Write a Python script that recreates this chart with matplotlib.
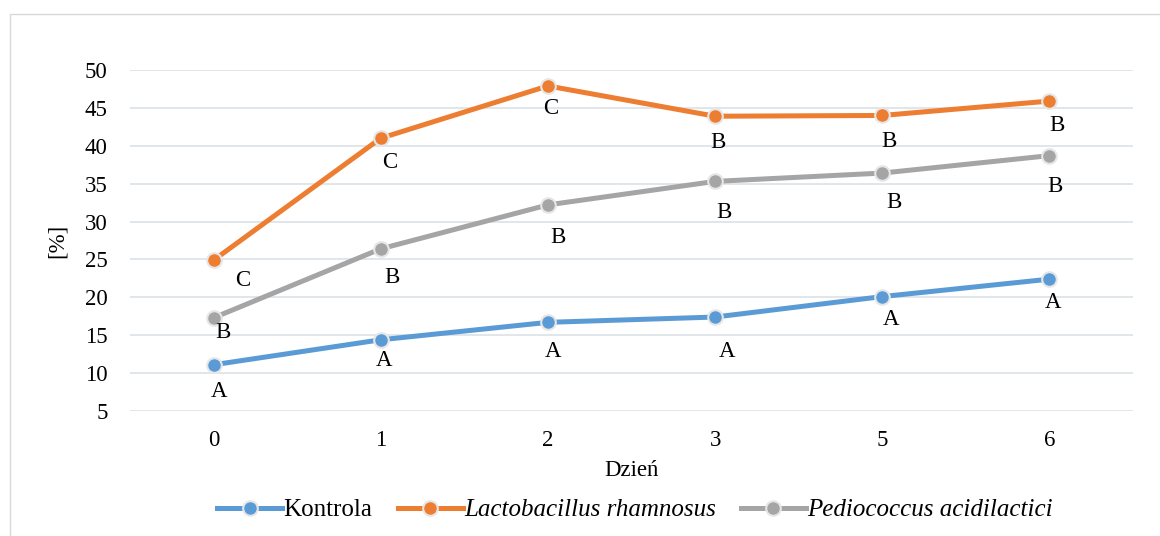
import matplotlib
matplotlib.use("Agg")
import matplotlib.pyplot as plt
from matplotlib.patches import Rectangle

plt.rcParams['font.family'] = ['Liberation Serif', 'DejaVu Serif']

days = ['0', '1', '2', '3', '5', '6']
kontrola = [11.1, 14.4, 16.7, 17.4, 20.1, 22.4]
rhamnosus = [24.9, 41.0, 47.9, 43.9, 44.0, 45.9]
pediococcus = [17.3, 26.4, 32.2, 35.3, 36.4, 38.7]

lab_kontrola = ['A', 'A', 'A', 'A', 'A', 'A']
lab_rhamnosus = ['C', 'C', 'C', 'B', 'B', 'B']
lab_pediococcus = ['B', 'B', 'B', 'B', 'B', 'B']

# label offsets in pixels (dx, dy below point) - layout only
off_k = [(5, 27), (3, 21), (5, 29), (12, 34), (9, 23), (4, 23)]
off_r = [(29, 20), (9, 24), (3, 23), (3, 26), (7, 26), (8, 24)]
off_p = [(9, 15), (11, 29), (10, 33), (9, 31), (12, 29), (6, 31)]

W, H = 1160, 536
FS = 16.5
fig = plt.figure(figsize=(W / 100, H / 100), dpi=100)
fig.patches.append(Rectangle((10 / W, -0.01), 1.0, 1 - 14 / H + 0.01,
                             transform=fig.transFigure, fill=False,
                             edgecolor='#D9D9D9', linewidth=1))
ax = fig.add_axes([130 / W, 1 - 411 / H, (1133 - 130) / W, (411 - 70) / H])

x = list(range(len(days)))
series = [
    (kontrola, lab_kontrola, off_k, '#5B9BD5', 'Kontrola', 'normal'),
    (rhamnosus, lab_rhamnosus, off_r, '#ED7D31', 'Lactobacillus rhamnosus', 'italic'),
    (pediococcus, lab_pediococcus, off_p, '#A5A5A5', 'Pediococcus acidilactici', 'italic'),
]
handles = []
for vals, labs, offs, col, name, style in series:
    h, = ax.plot(x, vals, color=col, linewidth=3.6, marker='o', markersize=10.5,
                 markerfacecolor=col, markeredgecolor='#E6E6E6',
                 markeredgewidth=1.5, label=name, zorder=3)
    handles.append(h)
    for xi, v, lab, (dx, dy) in zip(x, vals, labs, offs):
        ax.annotate(lab, (xi, v), xytext=(dx * 0.72, -dy * 0.72),
                    textcoords='offset points', ha='center', va='center',
                    fontsize=FS, color='black')

ax.set_xlim(-0.5, len(days) - 0.5)
ax.set_ylim(5, 50)
ax.set_yticks(range(5, 51, 5))
ax.set_xticks(x)
ax.set_xticklabels(days)
ax.tick_params(axis='both', length=0, labelsize=FS)
ax.tick_params(axis='y', pad=16)
ax.tick_params(axis='x', pad=14)
ax.grid(axis='y', color='#DCE1E8', linewidth=1.2)
ax.set_axisbelow(True)
for s in ax.spines.values():
    s.set_visible(False)

ax.set_xlabel('Dzień', fontsize=FS, labelpad=6)
ax.set_ylabel('[%]', fontsize=FS, labelpad=12)

leg = fig.legend(handles=handles, loc='center', bbox_to_anchor=(635 / W, 1 - 510 / H),
                 ncol=3, frameon=False, fontsize=18, handlelength=2.6,
                 handletextpad=0.05, columnspacing=1.0)
for t, (_, _, _, _, _, style) in zip(leg.get_texts(), series):
    t.set_fontstyle(style)

fig.savefig('out.png', dpi=100)
